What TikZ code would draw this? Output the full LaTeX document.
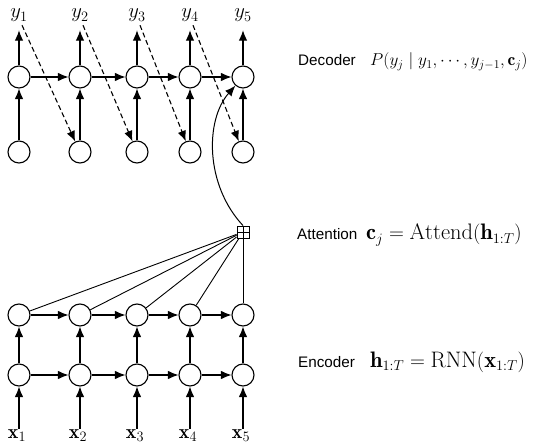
\documentclass[tikz,border=0pt]{standalone}
\usepackage{fontspec}
\setsansfont{Liberation Sans}
\usetikzlibrary{arrows.meta,calc}
\begin{document}
\begin{tikzpicture}[x=1bp,y=-1bp,
  cell/.style={circle,draw,line width=1.1bp,minimum size=22bp,inner sep=0pt},
  arr/.style={line width=1.1bp,-{Latex[length=10.5bp,width=8.5bp]}},
  darr/.style={arr,dash pattern=on 5bp off 3bp},
  thin/.style={line width=0.9bp},
  lab/.style={inner sep=0pt,anchor=base,font=\fontsize{20}{24}\selectfont},
  word/.style={inner sep=0pt,anchor=base west,font=\sffamily\fontsize{15.3}{18}\selectfont},
  eqs/.style={inner sep=0pt,anchor=base west,font=\fontsize{17.5}{21}\selectfont},
  eqb/.style={inner sep=0pt,anchor=base west,font=\fontsize{22.5}{27}\selectfont},
  attbox/.style={draw,line width=0.9bp,minimum size=12bp,inner sep=0pt,
    path picture={\draw[line width=0.9bp] (path picture bounding box.north) -- (path picture bounding box.south)
      (path picture bounding box.west) -- (path picture bounding box.east);}}
]
\useasboundingbox (0,0) rectangle (534,443);
% columns
\def\xa{19}\def\xb{80}\def\xc{137}\def\xd{190}\def\xe{243}
\foreach \i/\x in {1/\xa,2/\xb,3/\xc,4/\xd,5/\xe}{
  \node[cell] (d\i) at (\x,77) {};
  \node[cell] (b\i) at (\x,152) {};
  \node[lab] (y\i) at (\x,18) {$y_\i$};
  \node[cell] (h\i) at (\x,315) {};
  \node[cell] (r\i) at (\x,375) {};
  \node[lab] (x\i) at (\x-2,438) {$\mathbf{x}_\i$};
}
\foreach \i in {1,...,5}{
  \draw[arr] (b\i) -- (d\i);
  \draw[arr] (d\i) -- ($(d\i |- y\i.south)+(0,8)$);
  \draw[arr] (r\i) -- (h\i);
  \draw[arr] (x\i.north -| r\i) -- (r\i);
}
\foreach \i/\j in {1/2,2/3,3/4,4/5}{
  \draw[arr] (d\i) -- (d\j);
  \draw[arr] (h\i) -- (h\j);
  \draw[arr] (r\i) -- (r\j);
  \coordinate (s\i) at ($(y\i.south)+(3,3)$);
  \draw[darr] (s\i) -- (b\j);
}
% attention
\node[attbox] (att) at (243,232) {};
\foreach \i in {1,...,5}{ \draw[thin] (h\i) -- (att); }
\draw[line width=1bp,-{Latex[length=10.5bp,width=8.5bp]}] (att.north) .. controls (205,185) and (205,120) .. (d5);
% labels
\node[word] (wd) at (298,66) {Decoder};
\node[eqs] (ed) at (370,66) {$P(y_j\mid y_1,\cdots,y_{j-1},\mathbf{c}_j)$};
\node[word] (wa) at (297,240) {Attention};
\node[eqb] (ea) at (366,240) {$\mathbf{c}_j=\mathrm{Attend}(\mathbf{h}_{1:T})$};
\node[word] (we) at (298,367) {Encoder};
\node[eqb] (ee) at (370,367) {$\mathbf{h}_{1:T}=\mathrm{RNN}(\mathbf{x}_{1:T})$};
\end{tikzpicture}
\end{document}
